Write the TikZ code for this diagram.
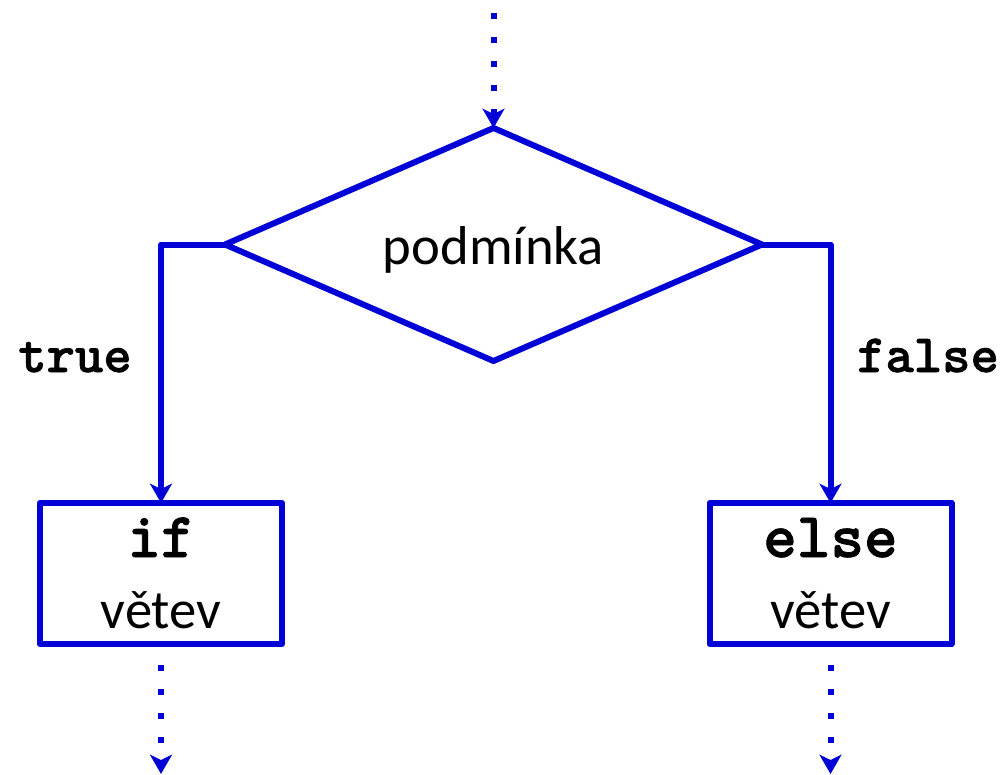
\documentclass[tikz,border=0pt]{standalone}
\usepackage{fontspec}
\newfontfamily\carlitofam{Carlito}
\newfontfamily\codefam[Extension=.otf,UprightFont=*-bold,FakeBold=1.2]{lmmonolt10}
\usetikzlibrary{arrows.meta,shapes.geometric}
\definecolor{fcblue}{RGB}{0,0,215}
\begin{document}
\begin{tikzpicture}[x=0.75pt,y=-0.75pt,
  line/.style={draw=fcblue,line width=4.5pt,line join=round},
  dots/.style={draw=fcblue,line width=4.5pt,dash pattern=on 4.5pt off 13.5pt},
  tip/.style={-{Stealth[length=14.5pt,width=16.5pt,inset=4pt]}},
  branch/.style={rectangle,line,minimum width=181.5pt,minimum height=105.75pt,inner sep=0,outer sep=0},
  sans/.style={font=\carlitofam\fontsize{41pt}{48pt}\selectfont,inner sep=0,anchor=base},
  code/.style={font=\codefam\fontsize{40.5pt}{46pt}\selectfont,inner sep=0,anchor=base},
  bigcode/.style={font=\codefam\fontsize{48pt}{54pt}\selectfont,inner sep=0,anchor=base}]
\useasboundingbox (0,0) rectangle (1002,774);
\node[diamond,line,minimum width=402.75pt,minimum height=174.75pt,inner sep=0,outer sep=0,shape aspect=2.3] (cond) at (493.5,244.5) {};
\node[sans] (condtext) at (493.5,264) {podmínka};
\node[branch] (ifb) at (161,573.5) {};
\node[branch] (elseb) at (830.5,573.5) {};
\node[bigcode] (iftext) at (161,557) {if};
\node[sans] (ifvet) at (161,628) {větev};
\node[bigcode] (elsetext) at (830.5,557) {else};
\node[sans] (elsevet) at (830.5,628) {větev};
\node[code] (truel) at (75,372) {true};
\node[code] (falsel) at (928,372) {false};
\coordinate (topin) at (493.5,13);
\coordinate (ifout) at (161,774);
\coordinate (elseout) at (830.5,774);
\draw[dots,tip] (topin) -- (cond.north);
\draw[line,tip] (cond.west) -| (ifb.north);
\draw[line,tip] (cond.east) -| (elseb.north);
\draw[dots,tip] ([yshift=-15.75pt]ifb.south) -- (ifout);
\draw[dots,tip] ([yshift=-15.75pt]elseb.south) -- (elseout);
\end{tikzpicture}
\end{document}
